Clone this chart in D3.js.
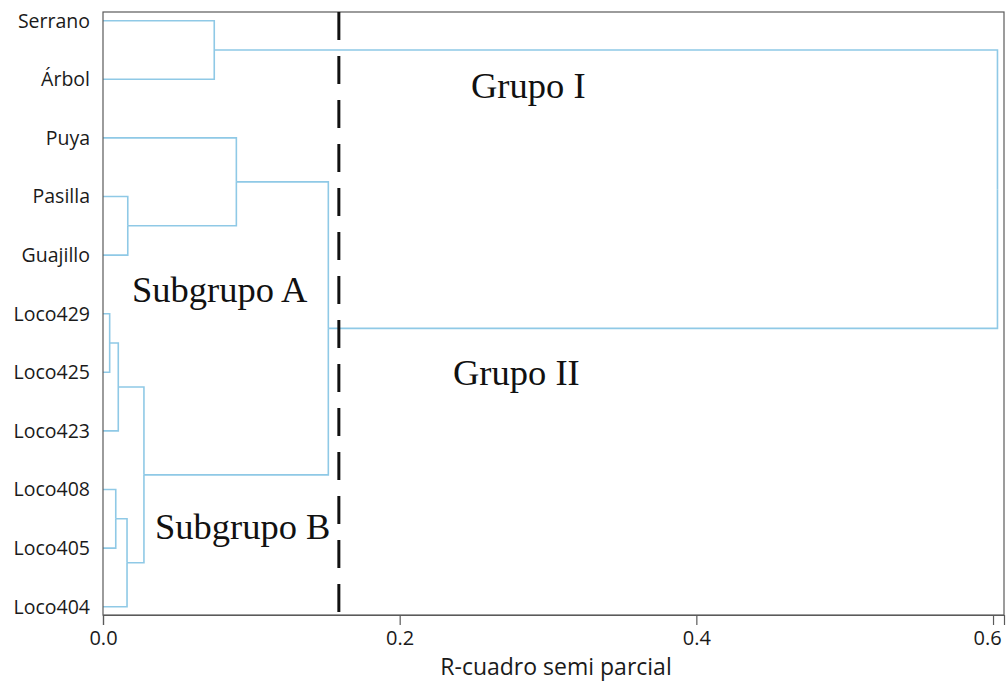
<!DOCTYPE html>
<html>
<head>
<meta charset="utf-8">
<script src="https://cdn.jsdelivr.net/npm/d3@7"></script>
<style>
  html, body { margin: 0; padding: 0; background: #ffffff; }
  svg { display: block; }
</style>
</head>
<body>
<svg id="chart" width="1006" height="687"></svg>
<script>
// ---- Data ----
const leaves = ["Serrano", "Árbol", "Puya", "Pasilla", "Guajillo",
                "Loco429", "Loco425", "Loco423", "Loco408", "Loco405", "Loco404"];
// Agglomeration steps: ids m0..m9
const mergeLeft   = ["Serrano", "Pasilla", "Puya", "Loco429", "m3",      "Loco408", "m5",      "m4",  "m2",  "m0"];
const mergeRight  = ["Árbol",   "Guajillo","m1",   "Loco425", "Loco423", "Loco405", "Loco404", "m6",  "m7",  "m8"];
const mergeHeight = [0.075,     0.0167,    0.0899, 0.0045,    0.0103,    0.0086,    0.0162,    0.0276, 0.1519, 0.603];
const cutHeight = 0.159;
const xTicks = [0.0, 0.2, 0.4, 0.6];
const xTickLabels = ["0.0", "0.2", "0.4", "0.6"];
const xTitle = "R-cuadro semi parcial";
const groupLabels = ["Grupo I", "Grupo II", "Subgrupo A", "Subgrupo B"];

// ---- Layout ----
const svg = d3.select("#chart");
const pLeft = 103, pRight = 1004, pTop = 12, pBottom = 615;

const x = d3.scaleLinear().domain([0, 0.6074]).range([pLeft, pRight]);
const y = d3.scalePoint().domain(leaves).range([20.7, 606.7]);

// Build node map
const nodes = {};
leaves.forEach(l => { nodes[l] = { id: l, h: 0, y: y(l) }; });
mergeLeft.forEach((a, i) => {
  const b = mergeRight[i];
  const na = nodes[a], nb = nodes[b];
  nodes["m" + i] = { id: "m" + i, h: mergeHeight[i], y: (na.y + nb.y) / 2, children: [na, nb] };
});

const lineColor = "#8fc9e6";
const g = svg.append("g");

// Dendrogram links (elbow)
mergeLeft.forEach((a, i) => {
  const n = nodes["m" + i];
  const px = x(n.h);
  n.children.forEach(c => {
    g.append("path")
      .attr("d", `M${x(c.h)},${c.y}H${px}V${n.y}`)
      .attr("fill", "none")
      .attr("stroke", lineColor)
      .attr("stroke-width", 1.6);
  });
});

// Frame
svg.append("rect")
  .attr("x", pLeft).attr("y", pTop)
  .attr("width", pRight - pLeft).attr("height", pBottom - pTop)
  .attr("fill", "none").attr("stroke", "#5a5a5a").attr("stroke-width", 1.2);

// Cut line
svg.append("line")
  .attr("x1", x(cutHeight)).attr("x2", x(cutHeight))
  .attr("y1", pTop).attr("y2", pBottom)
  .attr("stroke", "#111").attr("stroke-width", 3)
  .attr("stroke-dasharray", "28,16");

// X axis
const axis = d3.axisBottom(x).tickValues(xTicks)
  .tickFormat((d, i) => xTickLabels[i]).tickSize(10).tickPadding(6);
const ax = svg.append("g").attr("transform", `translate(0,${pBottom})`).call(axis);
ax.select(".domain").attr("stroke", "#5a5a5a").attr("stroke-width", 1.2);
ax.selectAll(".tick line").attr("stroke", "#5a5a5a").attr("stroke-width", 1.2);
ax.selectAll(".tick text")
  .attr("font-family", "'Open Sans', sans-serif")
  .attr("font-size", 20).attr("fill", "#1a1a1a")
  .attr("dx", (d, i) => i === xTicks.length - 1 ? -6 : 0);

svg.append("text")
  .attr("x", 556).attr("y", 675)
  .attr("text-anchor", "middle")
  .attr("font-family", "'Open Sans', sans-serif")
  .attr("font-size", 23).attr("fill", "#1a1a1a")
  .text(xTitle);

// Leaf labels
svg.append("g").selectAll("text").data(leaves).join("text")
  .attr("x", 90).attr("y", d => y(d))
  .attr("dy", "0.35em")
  .attr("text-anchor", "end")
  .attr("font-family", "'Open Sans', sans-serif")
  .attr("font-size", 19.5).attr("fill", "#1a1a1a")
  .text(d => d);

// Group annotations
const annPos = [[471, 98], [453, 385], [132, 302], [155, 539]];
svg.append("g").selectAll("text").data(groupLabels).join("text")
  .attr("x", (d, i) => annPos[i][0]).attr("y", (d, i) => annPos[i][1])
  .attr("font-family", "'Liberation Serif', serif")
  .attr("font-size", 36.5).attr("fill", "#111")
  .text(d => d);
</script>
</body>
</html>
